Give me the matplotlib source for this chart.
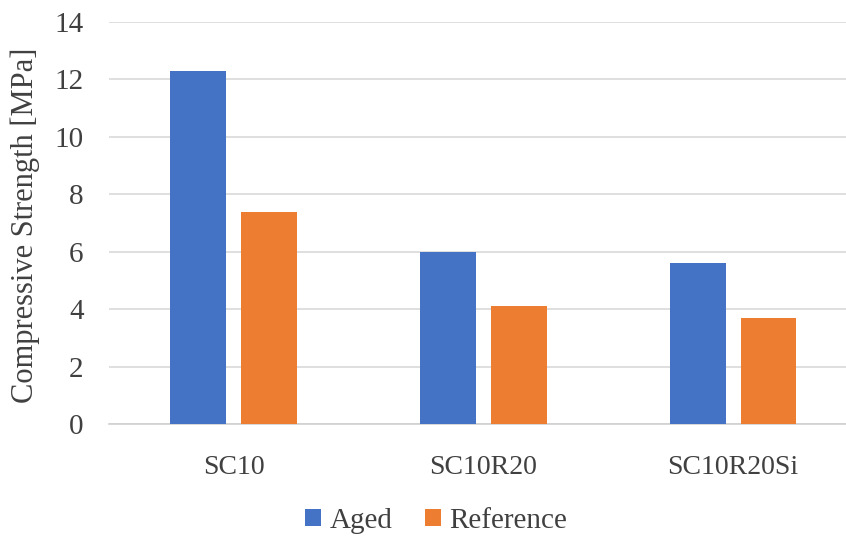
import matplotlib
matplotlib.use("Agg")
import matplotlib.pyplot as plt
import numpy as np

# data
categories = ["SC10", "SC10R20", "SC10R20Si"]
aged = [12.3, 6.0, 5.6]
reference = [7.4, 4.1, 3.7]
yticks = [0, 2, 4, 6, 8, 10, 12, 14]

plt.rcParams['font.family'] = ['Liberation Serif', 'DejaVu Serif']

fig = plt.figure(figsize=(8.46, 5.38), dpi=100)
ax = fig.add_axes([108.6/846, 114/538, 749.3/846, 402/538])

x = np.arange(len(categories))
w = 0.224
off = 0.142
ax.bar(x - off, aged, w, color='#4472C4', label='Aged', zorder=3)
ax.bar(x + off, reference, w, color='#ED7D31', label='Reference', zorder=3)

ax.set_xlim(-0.5, 2.5)
ax.set_ylim(0, 14)
ax.set_yticks(yticks)
ax.set_xticks(x)
ax.set_xticklabels(categories)
ax.grid(axis='y', color='#D9D9D9', lw=1.2, zorder=0)
for s in ['top', 'right', 'left']:
    ax.spines[s].set_visible(False)
ax.spines['bottom'].set_color('#D0D0D0')
ax.spines['bottom'].set_linewidth(1.2)
ax.tick_params(length=0, colors='#404040')
ax.tick_params(axis='y', pad=18, labelsize=21)
ax.tick_params(axis='x', pad=22, labelsize=20)

fig.text(25/846, 1 - 225/538, 'Compressive Strength [MPa]', rotation=90,
         ha='center', va='center', fontsize=22, color='#404040')

leg = fig.legend(loc='center', bbox_to_anchor=(436/846, 1 - 521/538), ncol=2,
                 frameon=False, fontsize=21, handlelength=0.55, handleheight=0.55,
                 handletextpad=0.3, columnspacing=1.1)
for t in leg.get_texts():
    t.set_color('#404040')

plt.savefig("out.png", dpi=100)
